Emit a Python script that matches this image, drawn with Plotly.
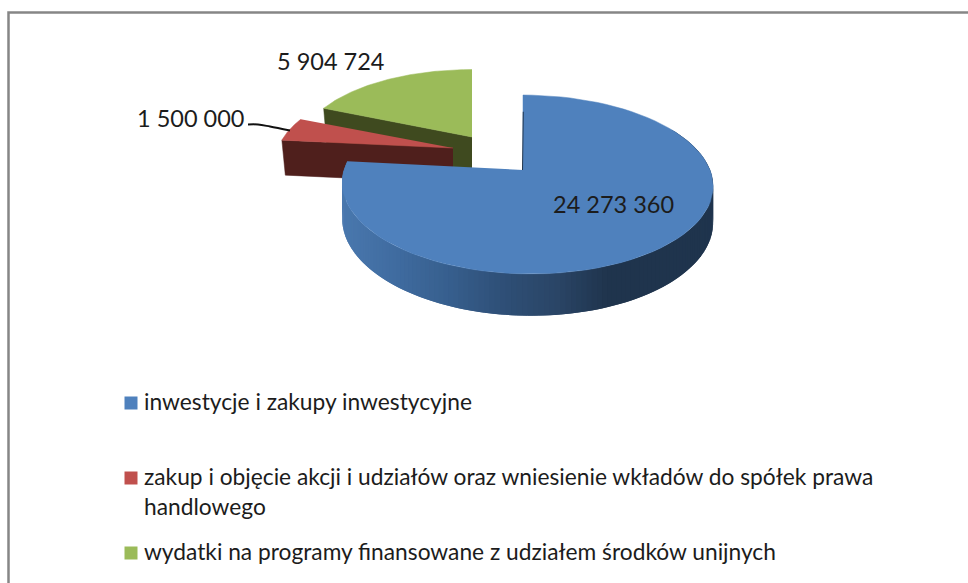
import math
import plotly.graph_objects as go

# ---------- data ----------
categories = [
    "inwestycje i zakupy inwestycyjne",
    "zakup i objęcie akcji i udziałów oraz wniesienie wkładów do spółek prawa<br>handlowego",
    "wydatki na programy finansowane z udziałem środków unijnych",
]
values = [24273360, 1500000, 5904724]

# ---------- style ----------
top_colors = ["#4f81bd", "#c0504d", "#9bbb59"]
side_colors = ["#1f344d", "#4f1f1c", "#3f4a1f"]
wall_stops = [(342, "#4a78ae"), (400, "#3f6b9f"), (450, "#375f8e"), (510, "#2e4e75"),
              (560, "#2a4566"), (610, "#1f344d"), (712, "#1f344d")]
LEGEND_FONT = "Lato, sans-serif"
LABEL_FONT = "Lato, sans-serif"
TEXT = "#1c1c1c"

# slice apex x, apex y, x scale, y scale  (exploded 3D pie, projected by perspective)
slice_geom = [(523, 170, 1.0, 1.0), (453, 148, 0.975, 0.9), (472, 137, 0.95, 0.9)]
A, K, P, DEPTH, SHEAR = 183, 87.1, 0.162, 35, 4


def project(geom, theta, r=1.0, low=False):
    cx, cy, sx, sy = geom
    u, v = r * math.sin(theta), -r * math.cos(theta)
    w = 1 - P * v
    x = cx + sx * (A * u / w + SHEAR * r * (1 + v))
    y = cy + sy * K * v / w
    if low:
        y += DEPTH / w
    return x, y


def hex_mix(c1, c2, t):
    a = [int(c1[i:i + 2], 16) for i in (1, 3, 5)]
    b = [int(c2[i:i + 2], 16) for i in (1, 3, 5)]
    return "#" + "".join(f"{round(p + (q - p) * t):02x}" for p, q in zip(a, b))


def wall_color(x):
    if x <= wall_stops[0][0]:
        return wall_stops[0][1]
    for (x0, c0), (x1, c1) in zip(wall_stops, wall_stops[1:]):
        if x <= x1:
            return hex_mix(c0, c1, (x - x0) / (x1 - x0))
    return wall_stops[-1][1]


total = sum(values)
bounds = [0.0]
for val in values:
    bounds.append(bounds[-1] + val / total * 2 * math.pi)

fig = go.Figure()


def poly(xs, ys, color, line=0.5):
    fig.add_trace(go.Scatter(x=xs, y=ys, mode="lines", fill="toself", fillcolor=color,
                             line=dict(color=color, width=line), showlegend=False,
                             hoverinfo="skip"))


def arc(geom, t0, t1, n=80, low=False):
    return [project(geom, t0 + (t1 - t0) * i / n, low=low) for i in range(n + 1)]


def top_face(i):
    g = slice_geom[i]
    pts = [(g[0], g[1])] + arc(g, bounds[i], bounds[i + 1])
    poly([p[0] for p in pts], [p[1] for p in pts], top_colors[i])


def cut_face(i):
    # face running from the apex to the slice's counter-clockwise corner
    g = slice_geom[i]
    cc = project(g, bounds[i])
    xs = [g[0], cc[0], cc[0] + (g[0] - cc[0]) * 0.02, g[0]]
    ys = [g[1], cc[1], cc[1] + DEPTH, g[1] + DEPTH]
    poly(xs, ys, side_colors[i])


# green slice (farthest)
cut_face(2)
top_face(2)
# red slice
cut_face(1)
top_face(1)

# blue slice: outer wall as shaded facets, then thin start edge, then top
g0 = slice_geom[0]
steps = 150
t_a, t_b = math.radians(60), bounds[1]
# facets overlap the next one so that no seams appear between them
for i in range(steps):
    t0 = t_a + (t_b - t_a) * i / steps
    t1 = t_a + (t_b - t_a) * min(i + 2, steps) / steps
    p = [project(g0, t0), project(g0, t1), project(g0, t1, low=True), project(g0, t0, low=True)]
    poly([q[0] for q in p], [q[1] for q in p], wall_color(p[0][0]), line=0)
top_face(0)
edge = project(g0, bounds[0], r=0.75)
fig.add_trace(go.Scatter(x=[g0[0] - 0.5, edge[0] - 0.5], y=[g0[1], edge[1]], mode="lines",
                         line=dict(color="#1f344d", width=1), showlegend=False, hoverinfo="skip"))

# leader line of the small slice
fig.add_trace(go.Scatter(x=[248, 258, 270, 290], y=[124.5, 124.5, 126.5, 130.5], mode="lines",
                         line=dict(color="#111111", width=2, shape="spline"),
                         showlegend=False, hoverinfo="skip"))

# legend swatches
legend_y = [403, 478, 553]
fig.add_trace(go.Scatter(x=[131] * 3, y=legend_y, mode="markers",
                         marker=dict(symbol="square", size=13, color=top_colors,
                                     line=dict(width=0)),
                         showlegend=False, hoverinfo="skip"))

annotations = []
for name, y in zip(categories, legend_y):
    for j, line in enumerate(name.split("<br>")):
        annotations.append(dict(x=142, y=y - 1.5 + 30 * j, text=line, xanchor="left", yanchor="middle",
                                showarrow=False, font=dict(family=LEGEND_FONT, size=22.75, color=TEXT)))

label_pos = [(613.5, 204), (190, 118), (330.5, 61)]
for val, (lx, ly) in zip(values, label_pos):
    annotations.append(dict(x=lx, y=ly, text=f"{val:,}".replace(",", " "), showarrow=False,
                            xanchor="center", yanchor="middle",
                            font=dict(family=LABEL_FONT, size=23.5, color=TEXT)))

frame_x = [8.5, 8.5, 968]
frame_y = [583, 12.5, 12.5]
shapes = [dict(type="path",
               path=f"M {frame_x[0]} {frame_y[0]} L {frame_x[1]} {frame_y[1]} L {frame_x[2]} {frame_y[2]}",
               line=dict(color="#868686", width=2.5), layer="below")]

fig.update_layout(
    width=968, height=583, autosize=False,
    margin=dict(l=0, r=0, t=0, b=0),
    paper_bgcolor="white", plot_bgcolor="white",
    xaxis=dict(range=[0, 968], visible=False, fixedrange=True),
    yaxis=dict(range=[583, 0], visible=False, fixedrange=True),
    annotations=annotations, shapes=shapes, showlegend=False,
)
fig.write_html("out.html", config=dict(displayModeBar=False),
               post_script="document.body.style.margin='0';document.documentElement.style.overflow='hidden';")
